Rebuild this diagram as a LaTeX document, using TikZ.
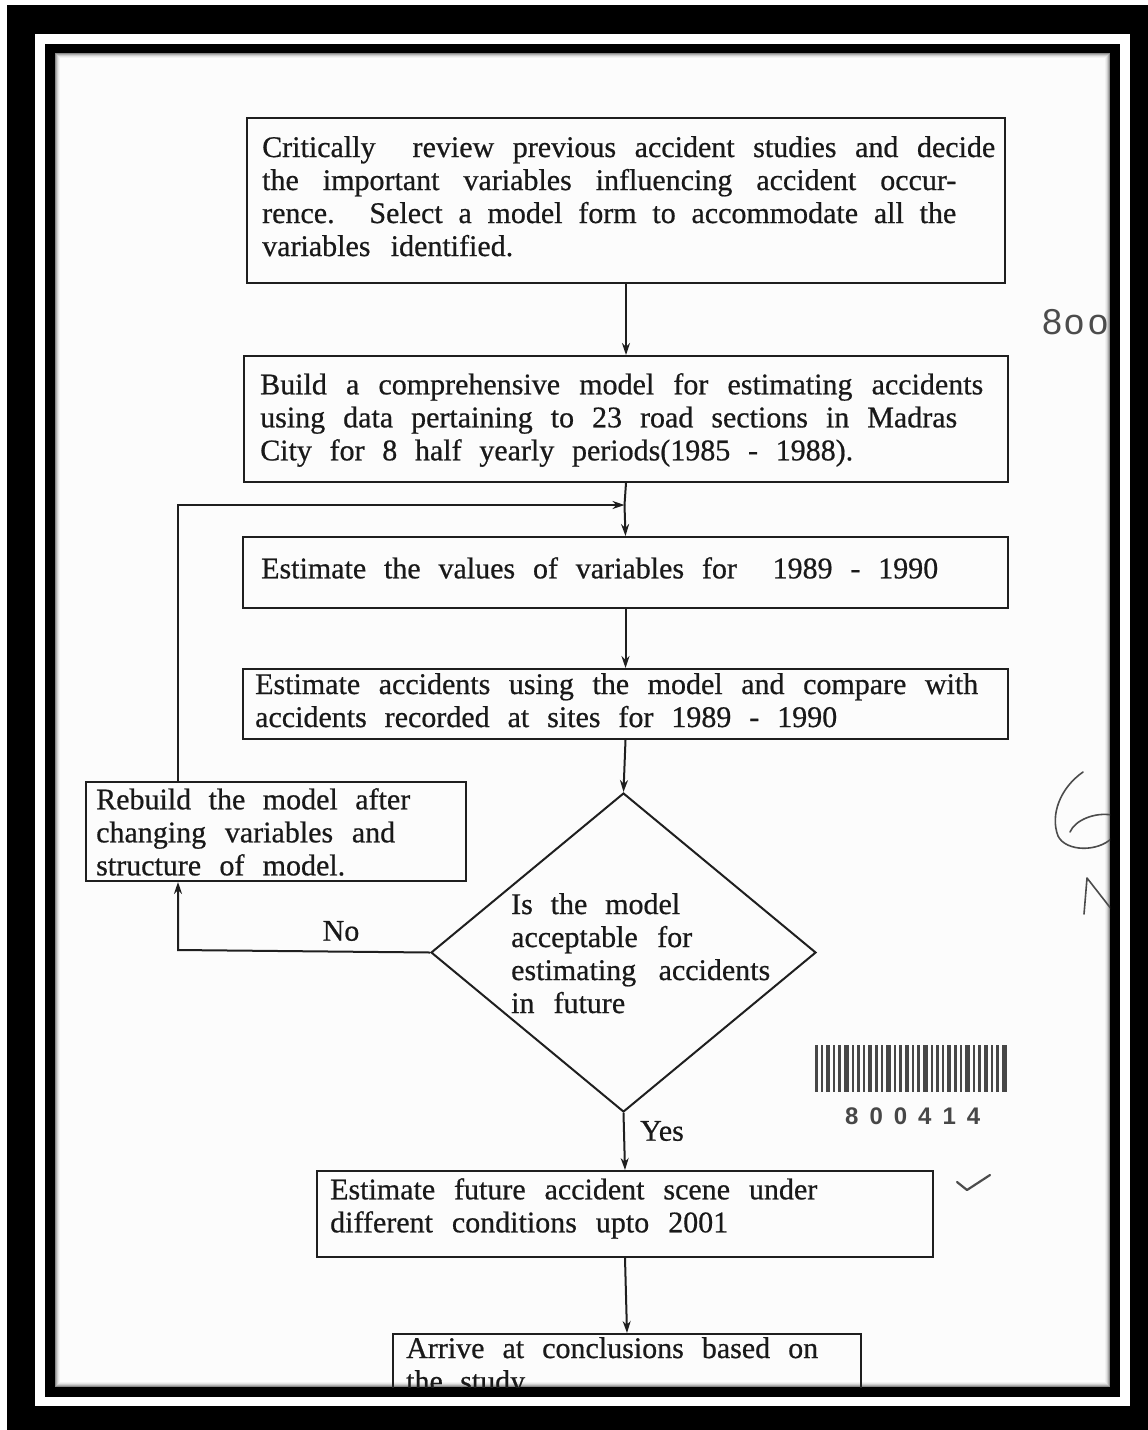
\documentclass[tikz,border=0pt]{standalone}
\usepackage{fontspec}
\setmainfont{Liberation Serif}
\newfontfamily\heavyserif{Liberation Serif}[FakeBold=0.6]
\newfontfamily\stampfont{Liberation Sans}
\usetikzlibrary{shapes.geometric,arrows.meta}
\newcommand{\sline}[2]{\makebox[#1pt][s]{#2}}
\tikzset{
  box/.style={draw=black!88, line width=2pt, rectangle, inner sep=0pt, anchor=north west},
  txt/.style={inner sep=0pt, anchor=north west, align=left, text=black!90, font=\heavyserif\fontsize{30}{33}\selectfont},
  lbl/.style={inner sep=0pt, text=black!90, font=\heavyserif\fontsize{30}{33}\selectfont},
  arr/.style={draw=black!88, line width=2pt, -{Stealth[length=12pt,width=8pt]}},
  ln/.style={draw=black!88, line width=2pt},
  hand/.style={draw=black!70, line width=2pt, line cap=round, line join=round},
  bar/.style={fill=black!72, draw=none},
}
\begin{document}
\begin{tikzpicture}[x=1pt,y=-1pt]
\useasboundingbox (0,0) rectangle (1148,1430);
% frames
\fill[white] (0,0) rectangle (1148,1430);
\fill[black] (7,5) rectangle (1148,1430);
\fill[white] (35,34) rectangle (1130,1406);
\fill[black] (45,44) rectangle (1120,1397);
\fill[white!99!black] (55,53) rectangle (1110,1387);
\foreach \i/\o in {0.5/0.45,1.5/0.3,2.5/0.18,3.5/0.09,4.5/0.04}
  \draw[black, opacity=\o, line width=1pt] (55+\i,53+\i) rectangle (1110-\i,1387-\i);
\begin{scope}
\clip (55,53) rectangle (1110,1387);
% boxes
\node[box, minimum width=758pt, minimum height=165pt] (b1) at (246,117) {};
\node[txt] (t1) at (262,136) {\sline{733}{Critically\ \ review previous accident studies and decide}\\
\sline{694}{the important variables influencing accident occur-}\\
\sline{694}{rence. Select a model form to accommodate all the}\\
\sline{251}{variables identified.}};
\node[box, minimum width=764pt, minimum height=126pt] (b2) at (243,355) {};
\node[txt] (t2) at (260,373) {\sline{723}{Build a comprehensive model for estimating accidents}\\
\sline{697}{using data pertaining to 23 road sections in Madras}\\
\sline{593}{City for 8 half yearly periods(1985 - 1988).}};
\node[box, minimum width=765pt, minimum height=71pt] (b3) at (242,536) {};
\node[txt] (t3) at (261,557) {\sline{677}{Estimate the values of variables for\ \ 1989 - 1990}};
\node[box, minimum width=765pt, minimum height=70pt] (b4) at (242,668) {};
\node[txt] (t4) at (255,673) {\sline{723}{Estimate accidents using the model and compare with}\\
\sline{582}{accidents recorded at sites for 1989 - 1990}};
\node[box, minimum width=380pt, minimum height=99pt] (r) at (85,781) {};
\node[txt] (tr) at (96,788) {\sline{314}{Rebuild the model after}\\
\sline{299}{changing variables and}\\
\sline{249}{structure of model.}};
\node[draw=black!88, line width=2pt, shape=diamond, minimum width=385pt, minimum height=319pt, inner sep=0pt] (d) at (623.5,952.5) {};
\node[txt] (td) at (511,893) {\sline{169}{Is the model}\\
\sline{181}{acceptable for}\\
\sline{259}{estimating accidents}\\
\sline{114}{in future}};
\node[box, minimum width=616pt, minimum height=86pt] (b5) at (316,1170) {};
\node[txt] (t5) at (330,1178) {\sline{487}{Estimate future accident scene under}\\
\sline{398}{different conditions upto 2001}};
\node[box, minimum width=468pt, minimum height=86pt] (b6) at (392,1333) {};
\node[txt] (t6) at (406,1337) {\sline{412}{Arrive at conclusions based on}\\
\sline{119}{the study}};
% connectors
\coordinate (j) at (624.5,505);
\coordinate (nc) at (178,950);
\coordinate (tl) at (178,505);
\draw[arr] (b1.south) -- (b2.north);
\draw[ln] (b2.south) -- (j);
\draw[arr] (j) -- (b3.north);
\draw[arr] (b3.south) -- (b4.north);
\draw[arr] (b4.south) -- (d.north);
\draw[arr] (d.west) -- (nc) -- (nc |- r.south);
\draw[arr] (nc |- r.north) -- (tl) -- (j);
\draw[arr] (d.south) -- (b5.north);
\draw[arr] (b5.south) -- (b6.north);
\node[lbl] (no) at (341,931) {No};
\node[lbl] (yes) at (662,1131) {Yes};
% annotations
\node[inner sep=0pt, anchor=west, text=black!70, font=\stampfont\fontsize{36}{36}\selectfont] (h80) at (1042,322) {8\kern2pt o\kern4pt o};
\draw[hand, line width=1.6pt] (1083,772) .. controls (1060,788) and (1050,815) .. (1058,836) .. controls (1066,852) and (1098,852) .. (1112,838);
\draw[hand, line width=1.6pt] (1112,815) .. controls (1095,812) and (1075,820) .. (1070,832);
\draw[hand, line width=1.6pt] (1084,914) -- (1087,878) -- (1112,910);
\draw[hand, line width=2.2pt] (957,1182) -- (967,1190) -- (990,1175);
\foreach \x/\w in {815/3,821/2,826/4,833/2,838/3,844/5,852/2,857/3,863/2,868/4,875/3,881/2,886/5,894/2,899/3,905/4,912/2,917/3,923/5,931/2,936/3,942/2,947/4,954/3,960/2,965/5,973/2,978/3,984/4,991/2,996/3,1002/5}
  \fill[bar] (\x,1045) rectangle (\x+\w,1092);
\node[inner sep=0pt, anchor=west, text=black!72, font=\stampfont\bfseries\fontsize{24}{24}\selectfont] (code) at (845,1116) {\makebox[135pt][s]{8\hfil 0\hfil 0\hfil 4\hfil 1\hfil 4}};
\end{scope}
\end{tikzpicture}
\end{document}
